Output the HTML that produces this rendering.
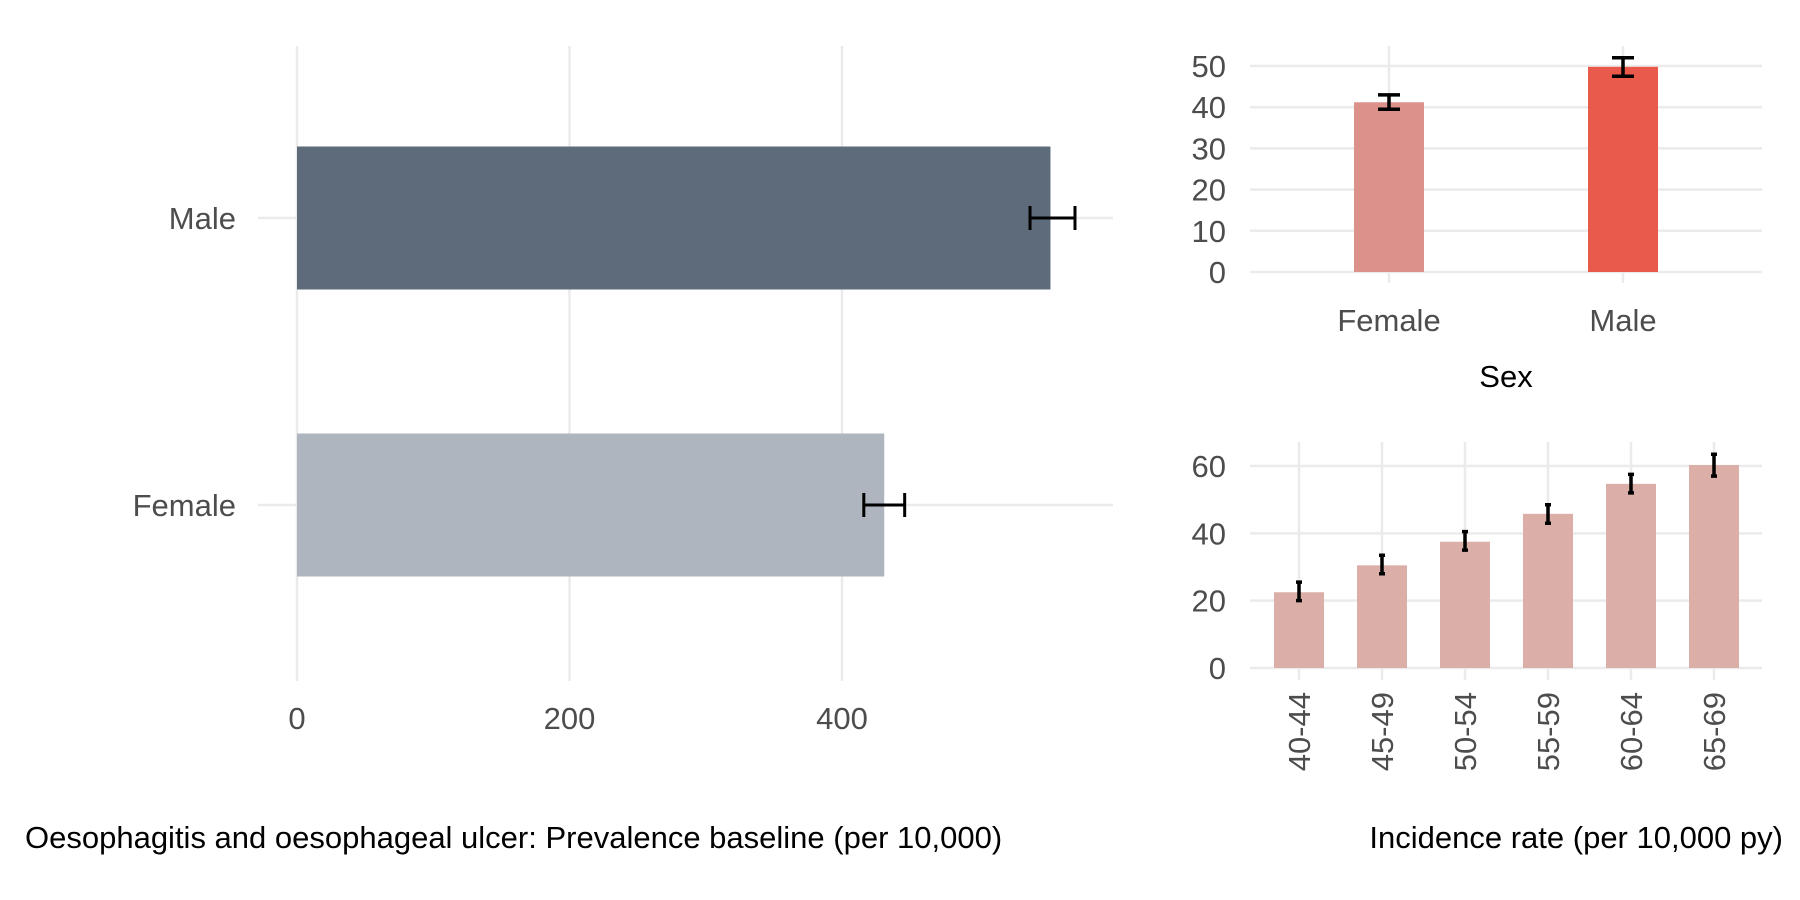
<!DOCTYPE html>
<html><head><meta charset="utf-8"><style>
html,body{margin:0;padding:0;background:#fff;}
svg{display:block;font-family:"Liberation Sans",sans-serif;}
</style></head><body>
<svg id="c" width="1800" height="900" viewBox="0 0 1800 900" xmlns="http://www.w3.org/2000/svg"></svg>
<script>
// Left panel: prevalence
const prevCats = ["Male","Female"];
const prevVals = [553, 431];
const prevLo = [538, 416];
const prevHi = [571, 446];
const prevTicks = [0, 200, 400];
// Top right: incidence by sex
const sexCats = ["Female","Male"];
const sexVals = [41.2, 49.8];
const sexLo = [39.5, 47.5];
const sexHi = [43, 52];
const sexTicks = [0,10,20,30,40,50];
// Bottom right: incidence by age
const ageCats = ["40-44","45-49","50-54","55-59","60-64","65-69"];
const ageVals = [22.5, 30.5, 37.5, 45.8, 54.7, 60.3];
const ageLo = [20, 28, 35, 43, 52, 57];
const ageHi = [25.5, 33.5, 40.5, 48.5, 57.5, 63.5];
const ageTicks = [0,20,40,60];

const svg = document.getElementById('c');
const NS = "http://www.w3.org/2000/svg";
function mk(tag, attrs, parent){
  const e = document.createElementNS(NS, tag);
  for (const k in attrs) e.setAttribute(k, attrs[k]);
  (parent||svg).appendChild(e);
  return e;
}
const GRID = "#ebebeb", TXT = "#4d4d4d";

// ---- Left panel ----
const lx = v => 297 + v * (545/400);
const ly = {"Male":218, "Female":505};
let g = mk('g', {});


prevTicks.forEach(t=>{
  const l = mk('line',{x1:lx(t),x2:lx(t),y1:46,y2:681,stroke:GRID,'stroke-width':2.5},g);
  
  
  const tx = mk('text',{x:lx(t),y:729,'font-size':31,fill:TXT,'text-anchor':'middle'},g);
  tx.textContent = t;
  
  
});
prevCats.forEach((c,i)=>{
  const y = ly[c];
  const gl = mk('line',{x1:258,x2:1113,y1:y,y2:y,stroke:GRID,'stroke-width':2.5},g);
  
  
  const r = mk('rect',{x:lx(0),y:y-71.5,width:lx(prevVals[i])-lx(0),height:143,fill:c==="Male"?"#5d6b7b":"#aeb5be"},g);
  
  
  const eb = mk('path',{d:`M${lx(prevLo[i])},${y-12}V${y+12}M${lx(prevLo[i])},${y}H${lx(prevHi[i])}M${lx(prevHi[i])},${y-12}V${y+12}`,stroke:"#000",'stroke-width':3,fill:'none'},g);
  
  
  const tl = mk('text',{x:236,y:y+11,'font-size':31,fill:TXT,'text-anchor':'end'},g);
  tl.textContent = c;
  
  
});

// ---- Top right ----
const sy = v => 272 - v * (206/50);
const sx = {"Female":1389,"Male":1623};
g = mk('g', {});


sexCats.forEach(c=>{
  const l = mk('line',{x1:sx[c],x2:sx[c],y1:46,y2:283,stroke:GRID,'stroke-width':2.5},g);
  
  
});
sexTicks.forEach(t=>{
  const l = mk('line',{x1:1250,x2:1762,y1:sy(t),y2:sy(t),stroke:GRID,'stroke-width':2.5},g);
  
  
  const tx = mk('text',{x:1226,y:sy(t)+11,'font-size':31,fill:TXT,'text-anchor':'end'},g);
  tx.textContent = t;
  
  
});
sexCats.forEach((c,i)=>{
  const x = sx[c];
  const r = mk('rect',{x:x-35,y:sy(sexVals[i]),width:70,height:sy(0)-sy(sexVals[i]),fill:c==="Male"?"#ea5a4a":"#dc918a"},g);
  
  
  const eb = mk('path',{d:`M${x-11},${sy(sexHi[i])}H${x+11}M${x},${sy(sexHi[i])}V${sy(sexLo[i])}M${x-11},${sy(sexLo[i])}H${x+11}`,stroke:"#000",'stroke-width':3.5,fill:'none'},g);
  
  
  const tl = mk('text',{x:x,y:331,'font-size':31,fill:TXT,'text-anchor':'middle'},g);
  tl.textContent = c;
  
  
});
let st = mk('text',{x:1506,y:387,'font-size':31,fill:"#000",'text-anchor':'middle'},g);
st.textContent = "Sex";



// ---- Bottom right ----
const ay = v => 668 - v * (202/60);
const ax = i => 1299 + i * 83;
g = mk('g', {});


ageCats.forEach((c,i)=>{
  const l = mk('line',{x1:ax(i),x2:ax(i),y1:442,y2:680,stroke:GRID,'stroke-width':2.5},g);
  
  
});
ageTicks.forEach(t=>{
  const l = mk('line',{x1:1250,x2:1762,y1:ay(t),y2:ay(t),stroke:GRID,'stroke-width':2.5},g);
  
  
  const tx = mk('text',{x:1226,y:ay(t)+11,'font-size':31,fill:TXT,'text-anchor':'end'},g);
  tx.textContent = t;
  
  
});
ageCats.forEach((c,i)=>{
  const x = ax(i);
  const r = mk('rect',{x:x-25,y:ay(ageVals[i]),width:50,height:ay(0)-ay(ageVals[i]),fill:"#dcaea8"},g);
  
  
  const eb = mk('path',{d:`M${x-3},${ay(ageHi[i])}H${x+3}M${x},${ay(ageHi[i])}V${ay(ageLo[i])}M${x-3},${ay(ageLo[i])}H${x+3}`,stroke:"#000",'stroke-width':3.5,fill:'none'},g);
  
  
  const tl = mk('text',{x:0,y:0,'font-size':31,fill:TXT,'text-anchor':'end',transform:`translate(${x+11},692) rotate(-90)`},g);
  tl.textContent = c;
  
  
});

// ---- Captions ----
let c1 = mk('text',{x:25,y:848,'font-size':31,fill:"#000"});
c1.textContent = "Oesophagitis and oesophageal ulcer: Prevalence baseline (per 10,000)";


let c2 = mk('text',{x:1783,y:848,'font-size':31,fill:"#000",'text-anchor':'end'});
c2.textContent = "Incidence rate (per 10,000 py)";


</script>
</body></html>
